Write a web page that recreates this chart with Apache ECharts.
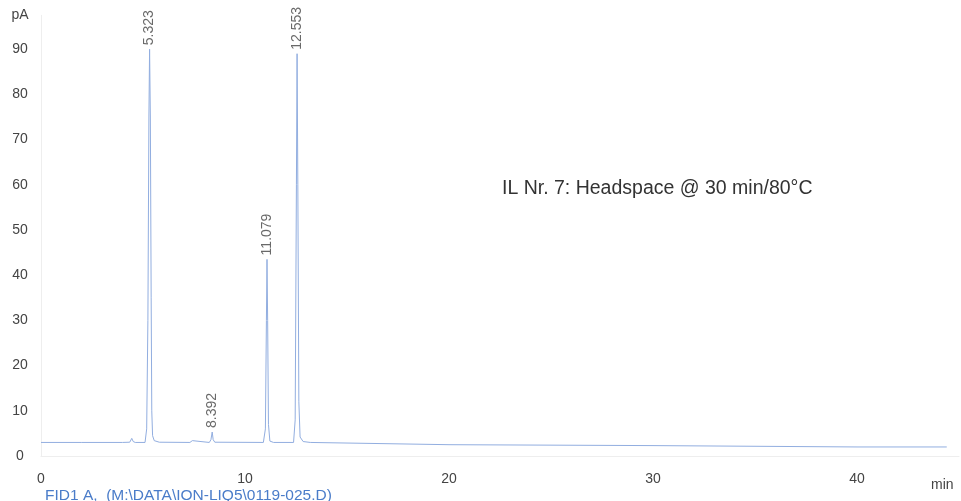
<!DOCTYPE html>
<html>
<head>
<meta charset="utf-8">
<script src="https://cdn.jsdelivr.net/npm/echarts@6/dist/echarts.min.js"></script>
<style>
  html, body { margin: 0; padding: 0; background: #fff; }
  #chart { width: 961px; height: 501px; }
</style>
</head>
<body>
<div id="chart"></div>
<script>
// FID signal trace: retention time (min) and detector signal (pA)
const traceTime = [
  0.0, 2.0, 4.0, 4.35, 4.45, 4.52, 4.62,
  5.10, 5.18, 5.24, 5.29, 5.323, 5.36, 5.40, 5.43, 5.47, 5.55, 5.80,
  7.30, 7.42, 7.50,
  8.25, 8.33, 8.392, 8.44, 8.52,
  10.90, 11.00, 11.05, 11.079, 11.11, 11.15, 11.22, 11.40,
  12.38, 12.46, 12.52, 12.553, 12.59, 12.64, 12.70, 12.85, 13.20,
  20.0, 30.0, 40.0, 44.4
];
const traceSignal = [
  3.0, 3.0, 3.0, 3.05, 3.9, 3.2, 3.0,
  3.0, 6.0, 30.0, 75.0, 90.0, 75.0, 35.0, 10.0, 4.5, 3.4, 3.05,
  3.0, 3.4, 3.0,
  3.0, 3.6, 5.3, 3.6, 3.05,
  3.0, 6.0, 30.0, 43.5, 30.0, 7.0, 3.3, 3.0,
  3.0, 8.0, 60.0, 89.0, 60.0, 12.0, 4.2, 3.2, 3.0,
  2.5, 2.3, 2.0, 2.0
];

// Integrated peaks: retention time (min) and apex height (pA)
const peakTimes = [5.323, 8.392, 11.079, 12.553];
const peakHeights = [90.0, 5.3, 43.5, 89.0];

// Axis ticks
const xTicks = [0, 10, 20, 30, 40];
const yTicks = [0, 10, 20, 30, 40, 50, 60, 70, 80, 90];
const xUnit = 'min';
const yUnit = 'pA';
const yTop = 97.5;

const sampleNote = 'IL Nr. 7: Headspace @ 30 min/80°C';
const signalName = 'FID1 A,  (M:\\DATA\\ION-LIQ5\\0119-025.D)';

const font = '"Liberation Sans", Arial, sans-serif';
const traceColor = '#92aee0';

const chart = echarts.init(document.getElementById('chart'), null, { renderer: 'canvas' });

chart.setOption({
  animation: false,
  backgroundColor: '#ffffff',
  title: [
    {
      text: sampleNote,
      left: 497, top: 174,
      textStyle: { fontFamily: font, fontSize: 19.5, fontWeight: 'normal', color: '#333' }
    },
    {
      text: signalName,
      left: 40, top: 483,
      textStyle: { fontFamily: font, fontSize: 15.5, fontWeight: 'normal', color: '#4a7cc9' }
    }
  ],
  grid: { left: 41, right: 2, top: 15.3, bottom: 45, containLabel: false },
  xAxis: {
    type: 'value',
    min: 0, max: 45, interval: 10,
    name: xUnit,
    nameLocation: 'end',
    nameGap: -28,
    nameTextStyle: {
      fontFamily: font, fontSize: 14, color: '#444',
      align: 'left', verticalAlign: 'top', padding: [22, 0, 0, 0]
    },
    axisLine: { show: true, lineStyle: { color: '#eeeeee', width: 1 } },
    axisTick: { show: false },
    splitLine: { show: false },
    axisLabel: {
      margin: 16,
      fontFamily: font, fontSize: 14, color: '#444',
      showMaxLabel: false,
      formatter: v => (xTicks.includes(v) ? String(v) : '')
    }
  },
  yAxis: {
    type: 'value',
    min: 0, max: yTop, interval: 10,
    axisLine: { show: true, lineStyle: { color: '#eeeeee', width: 1 } },
    axisTick: { show: false },
    splitLine: { show: false },
    axisLabel: {
      margin: 21, align: 'center',
      fontFamily: font, fontSize: 14, color: '#444',
      showMaxLabel: true,
      formatter: v => (yTicks.includes(v) ? String(v) : (v === yTop ? yUnit : ''))
    }
  },
  series: [
    {
      type: 'line',
      data: traceTime.map((t, i) => [t, traceSignal[i]]),
      showSymbol: false,
      symbol: 'none',
      lineStyle: { color: traceColor, width: 1 },
      z: 2
    },
    {
      type: 'scatter',
      data: peakTimes.map((t, i) => [t, peakHeights[i]]),
      symbolSize: 0,
      itemStyle: { color: 'transparent' },
      silent: true,
      label: {
        show: true,
        position: 'top',
        distance: 4,
        rotate: 90,
        align: 'left',
        verticalAlign: 'middle',
        fontFamily: font, fontSize: 14, color: '#444',
        formatter: p => p.value[0].toFixed(3)
      },
      z: 3
    }
  ]
});
</script>
</body>
</html>
